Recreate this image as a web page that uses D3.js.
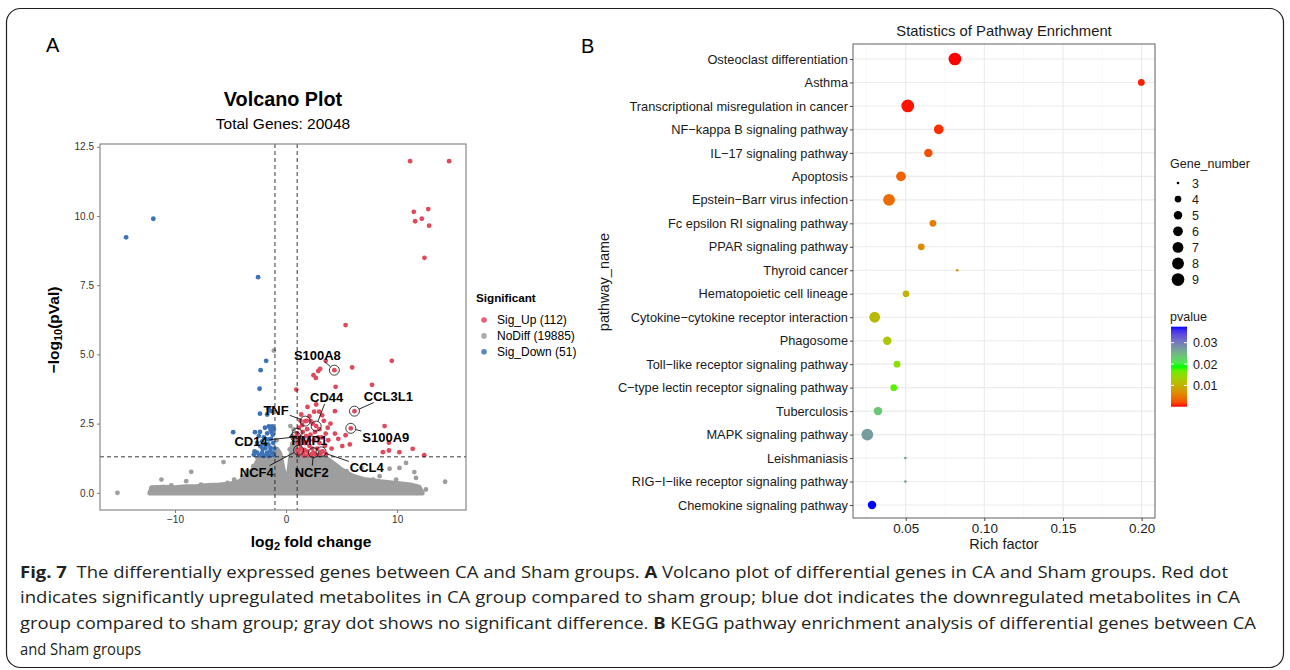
<!DOCTYPE html>
<html>
<head>
<meta charset="utf-8">
<script src="https://cdn.jsdelivr.net/npm/d3@7"></script>
<style>
  body { margin: 0; background: #fff; }
  svg { display: block; font-family: "Liberation Sans", Arial, sans-serif; }
</style>
</head>
<body>
<svg id="fig" width="1290" height="670"></svg>
<script>
// ---------------- Panel A data: [log2 fold change, -log10(pVal)] ----------------
var sigUp = [
  [11.17, 11.98], [14.68, 11.98], [11.5, 10.15], [12.8, 10.25], [11.62, 9.81], [12.22, 9.9],
  [12.88, 9.65], [12.46, 8.49], [5.36, 6.06], [9.52, 4.77], [3.57, 4.77], [5.95, 4.53],
  [3.07, 4.48], [2.9, 4.4], [2.47, 4.25], [2.68, 4.15], [4.46, 3.83], [7.74, 3.9], [0.92, 3.73],
  [1.93, 3.1], [2.71, 3.19], [2.53, 2.93], [2.98, 2.93], [4.4, 2.95], [2.1, 2.77], [1.37, 2.83],
  [3.75, 2.35], [8.87, 2.41], [5.36, 2.08], [4.4, 2.14], [3.57, 2.14], [9.26, 1.81], [5.06, 1.69],
  [5.74, 1.75], [8.72, 1.47], [9.26, 1.53], [10.2, 1.47], [11.4, 1.59], [12.44, 1.36],
  [1.1, 1.4], [1.3, 1.6], [1.5, 1.45], [1.7, 1.8], [1.9, 1.5], [2.1, 1.7], [2.3, 1.4], [2.5, 1.9],
  [2.8, 1.6], [3.0, 1.8], [3.2, 2.0], [1.2, 2.0], [1.5, 2.2], [1.9, 2.3], [2.2, 2.1], [2.4, 2.5],
  [3.0, 2.3], [3.3, 1.5], [1.05, 1.8], [1.4, 1.9], [1.8, 2.05], [2.6, 2.2], [2.9, 2.0], [3.5, 1.7],
  [3.8, 1.9], [4.1, 1.6], [1.6, 1.35], [2.0, 1.35], [2.7, 1.38], [3.6, 1.4], [1.15, 2.35],
  [1.3, 2.6], [2.2, 2.6], [3.4, 2.6], [4.0, 2.5], [4.7, 1.95], [1.25, 1.75], [1.65, 1.55],
  [2.05, 1.9], [2.35, 1.6], [3.1, 1.4], [1.0, 1.55], [1.45, 2.45], [1.85, 2.6], [3.25, 2.8]
];
var sigDown = [
  [-14.4, 9.23], [-11.95, 9.9], [-2.52, 7.79], [-1.79, 4.77], [-2.29, 4.43], [-2.38, 3.76],
  [-2.35, 2.86], [-1.7, 2.83], [-1.55, 3.01], [-1.34, 2.95], [-4.76, 2.19], [-2.8, 2.19],
  [-1.55, 2.4], [-1.25, 2.4], [-1.4, 2.28], [-1.7, 2.15], [-2.0, 2.0], [-1.55, 1.93], [-2.15, 1.86],
  [-2.6, 1.8], [-2.3, 1.68], [-1.85, 1.62], [-1.4, 1.62], [-2.6, 1.45], [-2.15, 1.45], [-1.7, 1.45],
  [-1.25, 1.45], [-1.55, 1.33], [-2.0, 1.33], [-1.1, 1.36], [-1.2, 2.1], [-1.15, 1.8], [-1.9, 2.35],
  [-2.45, 2.05], [-1.35, 1.95], [-1.05, 1.6], [-1.6, 1.75], [-2.1, 1.58], [-1.45, 1.5], [-1.8, 1.36],
  [-2.35, 2.2], [-2.83, 1.5], [-2.9, 1.38], [-1.1, 2.3], [-1.3, 2.2], [-2.4, 1.35], [-1.95, 1.75]
];
// scattered non-significant genes outside the dense cloud
var noDiff = [
  [-15.18, 0.0], [-11.22, 0.48], [-12.11, 0.18], [-8.54, 0.76], [-8.99, 0.42], [-6.46, 0.24],
  [-5.63, 1.11], [-4.67, 0.48], [-3.93, 0.6], [-3.48, 0.78], [-2.95, 0.96], [-2.59, 1.27],
  [-0.65, 1.48], [-1.1, 5.14], [0.39, 2.41], [0.68, 2.29], [0.54, 2.05], [0.33, 1.57],
  [4.55, 0.96], [5.45, 0.78], [5.98, 0.48], [6.79, 0.9], [7.83, 0.48], [9.32, 0.87],
  [10.21, 0.9], [10.8, 1.08], [11.55, 0.75], [11.7, 0.54], [12.59, 0.12], [14.32, 0.4],
  [8.42, 0.6], [9.91, 0.48], [3.66, 0.96], [2.77, 1.14], [2.02, 1.11], [1.28, 1.2],
  [-1.99, 0.96], [-5.27, 0.36], [-7.65, 0.3], [-10.33, 0.27], [-0.85, 1.9], [0.8, 1.9]
];
// upper edge of the dense grey cloud [log2FC, -log10 p]
var cloudEdge = [
  [-12.3, 0.0], [-12.1, 0.2], [-11, 0.22], [-10, 0.2], [-9, 0.24], [-8, 0.25], [-7, 0.28],
  [-6, 0.3], [-5, 0.34], [-4.2, 0.42], [-3.6, 0.6], [-3.0, 0.85], [-2.6, 1.15], [-2.3, 1.3],
  [-1.0, 1.35], [-0.8, 1.6], [-0.5, 1.4], [-0.25, 0.9], [0.0, 0.5], [0.15, 0.55], [0.35, 1.2],
  [0.55, 1.8], [0.85, 1.7], [1.0, 1.35], [3.5, 1.3], [4.2, 1.1], [5.0, 0.85], [6.0, 0.62],
  [7.0, 0.5], [8.5, 0.42], [10, 0.36], [11.2, 0.3], [12.0, 0.22], [12.3, 0.0]
];
var genes = ["S100A8", "CCL3L1", "TNF", "CD44", "S100A9", "TIMP1", "CD14", "NCF4", "NCF2", "CCL4"];
var geneFC = [4.35, 6.16, 1.73, 2.71, 5.83, 1.0, 0.88, 1.13, 2.47, 3.15];
var geneP = [4.43, 2.95, 2.59, 2.41, 2.33, 2.15, 2.02, 1.54, 1.45, 1.48];
// repelled label centres, in data units
var labelFC = [2.82, 9.21, -0.9, 3.66, 8.98, 2.01, -3.15, -2.64, 2.31, 7.27];
var labelP = [4.98, 3.5, 2.99, 3.45, 2.01, 1.91, 1.85, 0.75, 0.75, 0.91];
var legendNames = ["Sig_Up (112)", "NoDiff (19885)", "Sig_Down (51)"];

// ---------------- Panel B data ----------------
var pathways = [
  "Osteoclast differentiation", "Asthma", "Transcriptional misregulation in cancer",
  "NF\u2212kappa B signaling pathway", "IL\u221217 signaling pathway", "Apoptosis",
  "Epstein\u2212Barr virus infection", "Fc epsilon RI signaling pathway", "PPAR signaling pathway",
  "Thyroid cancer", "Hematopoietic cell lineage", "Cytokine\u2212cytokine receptor interaction",
  "Phagosome", "Toll\u2212like receptor signaling pathway", "C\u2212type lectin receptor signaling pathway",
  "Tuberculosis", "MAPK signaling pathway", "Leishmaniasis",
  "RIG\u2212I\u2212like receptor signaling pathway", "Chemokine signaling pathway"
];
var richFactor = [0.0813, 0.1998, 0.0513, 0.071, 0.0644, 0.047, 0.0394, 0.0673, 0.0599, 0.0828,
  0.0502, 0.0303, 0.0383, 0.0445, 0.0424, 0.0324, 0.0256, 0.0498, 0.0498, 0.0286];
var geneNumber = [9, 4, 9, 6, 5, 6, 8, 4, 4, 3, 4, 7, 5, 4, 4, 5, 8, 3, 3, 5];
var pValue = [0.00003, 0.0004, 0.0002, 0.0008, 0.0023, 0.0032, 0.0038, 0.005, 0.0062, 0.0066,
  0.0103, 0.011, 0.0122, 0.015, 0.0173, 0.0234, 0.0272, 0.0272, 0.0272, 0.0375];
var richTicks = [0.05, 0.10, 0.15, 0.20];
var sizeBreaks = [3, 4, 5, 6, 7, 8, 9];
var pTicks = [0.01, 0.02, 0.03];

var captionLines = [
  [["Fig. 7", true], ["  The differentially expressed genes between CA and Sham groups. ", false], ["A", true],
   [" Volcano plot of differential genes in CA and Sham groups. Red dot", false]],
  [["indicates significantly upregulated metabolites in CA group compared to sham group; blue dot indicates the downregulated metabolites in CA", false]],
  [["group compared to sham group; gray dot shows no significant difference. ", false], ["B", true],
   [" KEGG pathway enrichment analysis of differential genes between CA", false]],
  [["and Sham groups", false]]
];
var captionWidth = [1208, 1220, 1236, 121];

var upColor = "#e0485c", downColor = "#3b72b8", grey = "#9e9e9e";

var svg = d3.select("#fig");
svg.append("rect").attr("width", 1290).attr("height", 670).attr("fill", "#fff");

// outer frame
svg.append("rect")
  .attr("x", 6.5).attr("y", 8.5).attr("width", 1277).attr("height", 659).attr("rx", 14)
  .attr("fill", "none").attr("stroke", "#231f20").attr("stroke-width", 1.2);

svg.append("text").attr("x", 46).attr("y", 52).attr("font-size", 20).text("A");
svg.append("text").attr("x", 581).attr("y", 53).attr("font-size", 20).text("B");

// =============== Volcano plot ===============
var vx = d3.scaleLinear().domain([-16.75, 16.2]).range([100, 466]);
var vy = d3.scaleLinear().domain([-0.62, 12.6]).range([510, 144]);

var volcano = svg.append("g");

volcano.append("text").attr("x", 283).attr("y", 106).attr("text-anchor", "middle")
  .attr("font-size", 19.8).attr("font-weight", "bold").text("Volcano Plot");
volcano.append("text").attr("x", 283).attr("y", 129).attr("text-anchor", "middle")
  .attr("font-size", 15.5).text("Total Genes: 20048");

// dense grey cloud
var cloud = d3.area()
  .x(d => vx(d[0]))
  .y0(vy(-0.02))
  .y1(d => vy(d[1]));
volcano.append("path").datum(cloudEdge).attr("d", cloud)
  .attr("fill", grey).attr("stroke", grey).attr("stroke-width", 4).attr("stroke-linejoin", "round");

function dots(data, color) {
  volcano.append("g").selectAll("circle").data(data).enter().append("circle")
    .attr("cx", d => vx(d[0])).attr("cy", d => vy(d[1])).attr("r", 2.4).attr("fill", color);
}
dots(noDiff, grey);
dots(sigDown, downColor);
dots(sigUp, upColor);
dots(genes.map((g, i) => [geneFC[i], geneP[i]]), upColor);

// threshold lines
var dash = volcano.append("g").attr("stroke", "#222").attr("stroke-width", 0.9).attr("stroke-dasharray", "4,3");
[-1, 1].forEach(function (v) {
  dash.append("line").attr("x1", vx(v)).attr("x2", vx(v)).attr("y1", 144).attr("y2", 510);
});
dash.append("line").attr("x1", 100).attr("x2", 466).attr("y1", vy(-Math.log10(0.05))).attr("y2", vy(-Math.log10(0.05)));

// labelled genes
var lab = volcano.append("g");
genes.forEach(function (g, i) {
  var px = vx(geneFC[i]), py = vy(geneP[i]);
  lab.append("circle").attr("cx", px).attr("cy", py).attr("r", 5)
    .attr("fill", "none").attr("stroke", "#111").attr("stroke-width", 0.8);
  var t = lab.append("text").attr("x", vx(labelFC[i])).attr("y", vy(labelP[i]) + 4.6)
    .attr("text-anchor", "middle").attr("font-size", 13).attr("font-weight", "bold").text(g);
  var bb = t.node().getBBox();
  var cx = bb.x + bb.width / 2, cy = bb.y + bb.height / 2;
  var dx = px - cx, dy = py - cy;
  var s = Math.min(dx ? Math.abs((bb.width / 2 + 1) / dx) : Infinity, dy ? Math.abs((bb.height / 2 - 1) / dy) : Infinity);
  var len = Math.sqrt(dx * dx + dy * dy);
  var e = 1 - 5 / len;
  if (s < e) {
    lab.append("line")
      .attr("x1", cx + dx * s).attr("y1", cy + dy * s)
      .attr("x2", cx + dx * e).attr("y2", cy + dy * e)
      .attr("stroke", "#111").attr("stroke-width", 0.9);
  }
});

// axes
var yAxisV = volcano.append("g").attr("transform", "translate(100,0)")
  .call(d3.axisLeft(vy).tickValues([0, 2.5, 5, 7.5, 10, 12.5]).tickFormat(d3.format(".1f")).tickSize(3));
var xAxisV = volcano.append("g").attr("transform", "translate(0,510)")
  .call(d3.axisBottom(vx).tickValues([-10, 0, 10]).tickSize(3));
[yAxisV, xAxisV].forEach(function (a) {
  a.select(".domain").remove();
  a.selectAll("line").attr("stroke", "#7f7f7f");
  a.selectAll("text").attr("font-size", 10).attr("fill", "#333").attr("font-family", "Liberation Sans, Arial, sans-serif");
});
volcano.append("rect").attr("x", 100).attr("y", 144).attr("width", 366).attr("height", 366)
  .attr("fill", "none").attr("stroke", "#7f7f7f").attr("stroke-width", 1.1);

var xt = volcano.append("text").attr("x", 311).attr("y", 547).attr("text-anchor", "middle")
  .attr("font-size", 15.5).attr("font-weight", "bold");
xt.append("tspan").text("log");
xt.append("tspan").attr("font-size", 11).attr("dy", 3).text("2");
xt.append("tspan").attr("dy", -3).text(" fold change");

var yt = volcano.append("text").attr("transform", "translate(59,330) rotate(-90)")
  .attr("text-anchor", "middle").attr("font-size", 15.5).attr("font-weight", "bold");
yt.append("tspan").text("\u2212log");
yt.append("tspan").attr("font-size", 11).attr("dy", 3).text("10");
yt.append("tspan").attr("dy", -3).text("(pVal)");

// legend
var leg = volcano.append("g");
leg.append("text").attr("x", 476).attr("y", 301.5).attr("font-size", 11.7).attr("font-weight", "bold").text("Significant");
[upColor, grey, downColor].forEach(function (c, i) {
  leg.append("circle").attr("cx", 484).attr("cy", 320 + i * 15.9).attr("r", 2.8).attr("fill", c).attr("opacity", 0.85);
  leg.append("text").attr("x", 497).attr("y", 324.2 + i * 15.9).attr("font-size", 12).text(legendNames[i]);
});

// =============== Pathway enrichment ===============
var rx = d3.scaleLinear().domain([0.0165, 0.2085]).range([853, 1155]);
var ry = d3.scalePoint().domain(pathways).range([59, 505]);
var rScale = d3.scaleSqrt().domain([0, 6]).range([1.3, 6.35]);
var pMin = d3.min(pValue), pMax = d3.max(pValue);
var pColor = d3.scaleLinear().domain([pMin, (pMin + pMax) / 2, pMax])
  .range(["#ff0000", "#00ff00", "#0000ff"]).interpolate(d3.interpolateLab);

var kegg = svg.append("g");
kegg.append("text").attr("x", 1004).attr("y", 36).attr("text-anchor", "middle")
  .attr("font-size", 14.8).attr("fill", "#1a1a1a").text("Statistics of Pathway Enrichment");

var grid = kegg.append("g");
[0.025, 0.075, 0.125, 0.175].forEach(function (v) {
  grid.append("line").attr("x1", rx(v)).attr("x2", rx(v)).attr("y1", 44).attr("y2", 518)
    .attr("stroke", "#f3f3f3").attr("stroke-width", 0.6);
});
richTicks.forEach(function (v) {
  grid.append("line").attr("x1", rx(v)).attr("x2", rx(v)).attr("y1", 44).attr("y2", 518)
    .attr("stroke", "#ebebeb").attr("stroke-width", 1.1);
});
pathways.forEach(function (p) {
  grid.append("line").attr("x1", 853).attr("x2", 1155).attr("y1", ry(p)).attr("y2", ry(p))
    .attr("stroke", "#ebebeb").attr("stroke-width", 1.1);
});

kegg.append("g").selectAll("circle").data(pathways).enter().append("circle")
  .attr("cx", (d, i) => rx(richFactor[i]))
  .attr("cy", d => ry(d))
  .attr("r", (d, i) => rScale(geneNumber[i] - 3))
  .attr("fill", (d, i) => pColor(pValue[i]));

kegg.append("rect").attr("x", 853).attr("y", 44).attr("width", 302).attr("height", 474)
  .attr("fill", "none").attr("stroke", "#6e6e6e").attr("stroke-width", 1.1);

var yAxisK = kegg.append("g").attr("transform", "translate(853,0)")
  .call(d3.axisLeft(ry).tickSize(3).tickPadding(2));
var xAxisK = kegg.append("g").attr("transform", "translate(0,518)")
  .call(d3.axisBottom(rx).tickValues(richTicks).tickFormat(d3.format(".2f")).tickSize(3).tickPadding(2));
[yAxisK, xAxisK].forEach(function (a) {
  a.select(".domain").remove();
  a.selectAll("line").attr("stroke", "#444");
  a.selectAll("text").attr("fill", "#1a1a1a").attr("font-family", "Liberation Sans, Arial, sans-serif");
});
yAxisK.selectAll("text").attr("font-size", 12.8);
xAxisK.selectAll("text").attr("font-size", 13.4);

kegg.append("text").attr("x", 1004).attr("y", 549).attr("text-anchor", "middle")
  .attr("font-size", 14.5).attr("fill", "#1a1a1a").text("Rich factor");
kegg.append("text").attr("transform", "translate(609,282) rotate(-90)").attr("text-anchor", "middle")
  .attr("font-size", 14.5).attr("fill", "#1a1a1a").text("pathway_name");

// size legend
var sl = kegg.append("g");
sl.append("text").attr("x", 1170).attr("y", 168).attr("font-size", 12.5).attr("fill", "#1a1a1a").text("Gene_number");
sizeBreaks.forEach(function (n, i) {
  sl.append("circle").attr("cx", 1178).attr("cy", 183 + i * 16.1).attr("r", rScale(n - 3)).attr("fill", "#000");
  sl.append("text").attr("x", 1192).attr("y", 187.5 + i * 16.1).attr("font-size", 12.5).attr("fill", "#1a1a1a").text(n);
});

// colour bar
var cb = kegg.append("g");
cb.append("text").attr("x", 1170).attr("y", 321).attr("font-size", 12.5).attr("fill", "#1a1a1a").text("pvalue");
var cy = d3.scaleLinear().domain([pMin, pMax]).range([406.7, 326.7]);
var grad = svg.append("defs").append("linearGradient").attr("id", "pgrad")
  .attr("x1", 0).attr("x2", 0).attr("y1", 1).attr("y2", 0);
d3.range(0, 1.0001, 0.05).forEach(function (t) {
  grad.append("stop").attr("offset", t).attr("stop-color", pColor(pMin + t * (pMax - pMin)));
});
cb.append("rect").attr("x", 1171).attr("y", 326.7).attr("width", 16).attr("height", 80).attr("fill", "url(#pgrad)");
pTicks.forEach(function (v) {
  cb.append("line").attr("x1", 1171).attr("x2", 1174).attr("y1", cy(v)).attr("y2", cy(v)).attr("stroke", "#fff");
  cb.append("line").attr("x1", 1184).attr("x2", 1187).attr("y1", cy(v)).attr("y2", cy(v)).attr("stroke", "#fff");
  cb.append("text").attr("x", 1193).attr("y", cy(v) + 4.5).attr("font-size", 12.5).attr("fill", "#1a1a1a").text(v.toFixed(2));
});

// =============== caption ===============
var cap = svg.append("g").attr("font-family", "'Open Sans', 'Noto Sans', sans-serif").attr("fill", "#231f20");
captionLines.forEach(function (parts, i) {
  var t = cap.append("text").attr("x", 20).attr("y", 577.5 + i * 25.7).attr("font-size", 16)
    .style("white-space", "pre");
  parts.forEach(function (p) {
    t.append("tspan").attr("font-weight", p[1] ? "bold" : "normal").text(p[0]);
  });
  t.attr("textLength", captionWidth[i]).attr("lengthAdjust", "spacingAndGlyphs");
});
</script>
</body>
</html>
